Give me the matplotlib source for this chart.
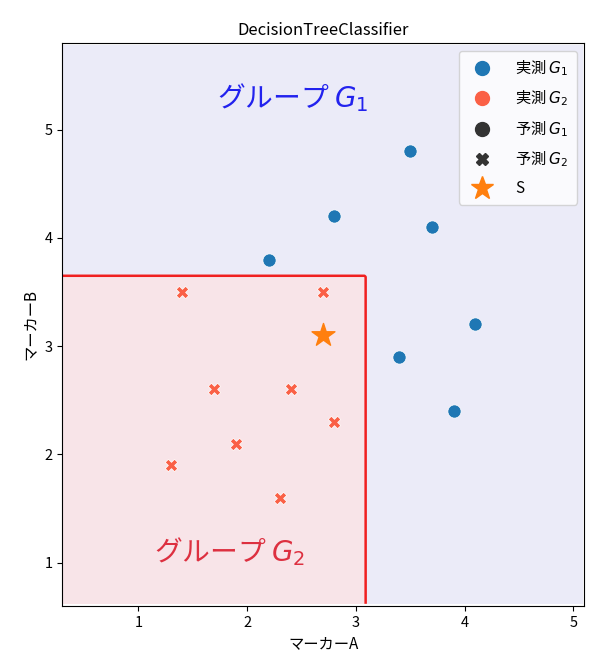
import numpy as np
import matplotlib
matplotlib.use("Agg")
import matplotlib.pyplot as plt
from matplotlib.colors import ListedColormap
from matplotlib.lines import Line2D

plt.rcParams['font.family'] = ['Noto Sans CJK JP', 'DejaVu Sans']
plt.rcParams['font.size'] = 10.5

# 実測データ
g1_a = [3.5, 2.8, 3.7, 2.2, 4.1, 3.4, 3.9]
g1_b = [4.8, 4.2, 4.1, 3.8, 3.2, 2.9, 2.4]
g2_a = [1.4, 2.7, 1.7, 2.4, 1.9, 2.8, 1.3, 2.3]
g2_b = [3.5, 3.5, 2.6, 2.6, 2.1, 2.3, 1.9, 1.6]
s_point = (2.7, 3.1)

# 決定木の分割 (マーカーA <= split_a かつ マーカーB <= split_b -> G2)
split_a = 3.1
split_b = 3.65

all_a = np.array(g1_a + g2_a)
all_b = np.array(g1_b + g2_b)
xx, yy = np.meshgrid(np.arange(all_a.min() - 1, all_a.max() + 1, 0.02),
                     np.arange(all_b.min() - 0.98, all_b.max() + 1, 0.02))
zz = ((xx <= split_a) & (yy <= split_b)).astype(float)

fig = plt.figure(figsize=(5.98, 6.67), dpi=100)
ax = fig.add_axes([0.104, 0.0915, 0.873, 0.844])

ax.contourf(xx, yy, zz, levels=[-0.5, 0.5, 1.5],
            cmap=ListedColormap(['#ebebf8', '#f8e4e8']))
ax.contour(xx, yy, zz, levels=[0.5], colors='#f02020', linewidths=1.8)

c1 = '#1f77b4'
c2 = '#fa6046'
ax.scatter(g1_a, g1_b, s=90, c=c1, marker='o', edgecolors='white', linewidths=0.5, zorder=3)
ax.scatter(g2_a, g2_b, s=80, c=c2, marker='X', edgecolors='white', linewidths=0.5, zorder=3)
ax.scatter([s_point[0]], [s_point[1]], s=300, c='#ff7f0e', marker='*', zorder=4)

ax.text(2.42, 5.29, 'グループ $G_1$', color='#2222ee', fontsize=20,
        ha='center', va='center')
ax.text(1.84, 1.1, 'グループ $G_2$', color='#dd3040', fontsize=20,
        ha='center', va='center')

ax.set_xlim(all_a.min() - 1, all_a.max() + 1)
ax.set_ylim(all_b.min() - 1, all_b.max() + 1)
ax.set_xticks([1, 2, 3, 4, 5])
ax.set_yticks([1, 2, 3, 4, 5])
ax.set_xlabel('マーカーA', fontsize=11)
ax.set_ylabel('マーカーB', fontsize=11)
ax.set_title('DecisionTreeClassifier', fontsize=12)

handles = [
    Line2D([], [], ls='', marker='o', ms=10, color=c1),
    Line2D([], [], ls='', marker='o', ms=10, color=c2),
    Line2D([], [], ls='', marker='o', ms=10, color='#333333'),
    Line2D([], [], ls='', marker='X', ms=9, color='#333333'),
    Line2D([], [], ls='', marker='*', ms=17, color='#ff7f0e'),
]
labels = ['実測 $G_1$', '実測 $G_2$', '予測 $G_1$', '予測 $G_2$', 'S']
ax.legend(handles, labels, loc='upper right', fontsize=11, labelspacing=0.7,
          borderpad=0.5, handletextpad=1.2)

fig.savefig('out.png', dpi=100)
